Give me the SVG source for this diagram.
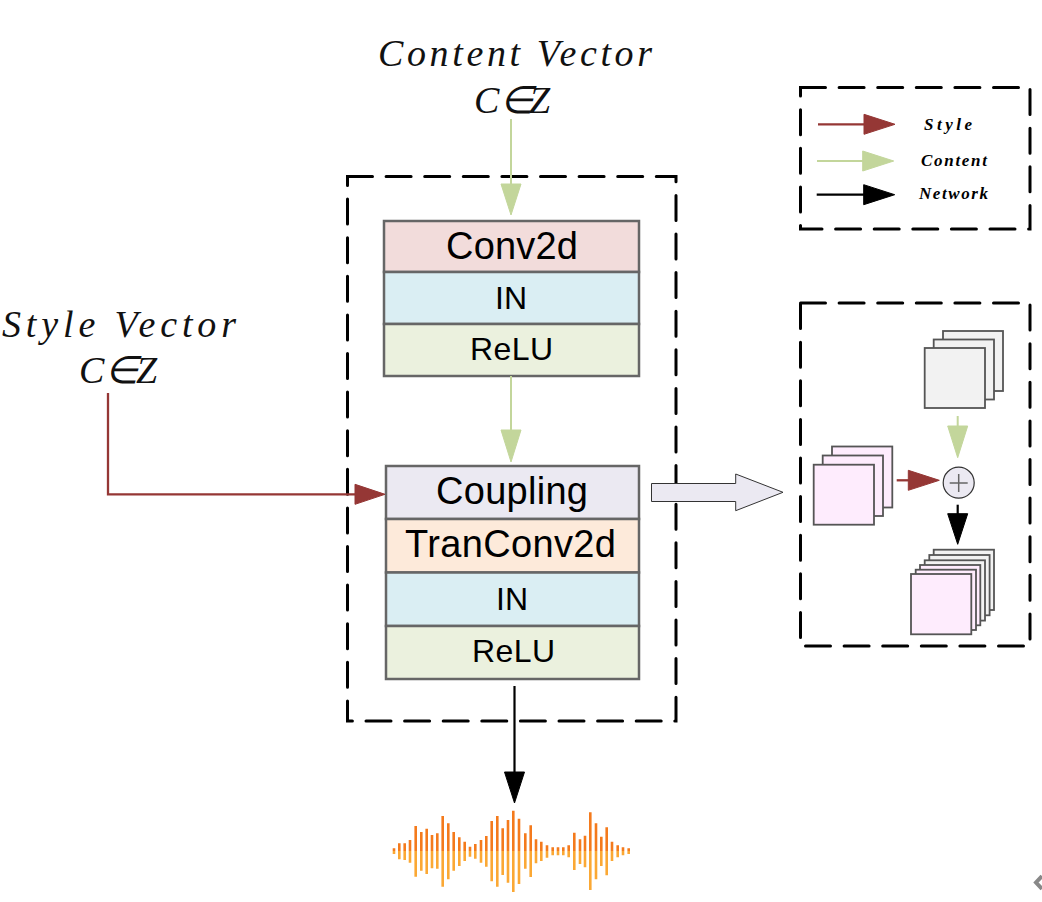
<svg xmlns="http://www.w3.org/2000/svg" width="1042" height="902" viewBox="0 0 1042 902">
<style>
.dash{fill:none;stroke:#000;stroke-width:3;stroke-dasharray:25 13.6;stroke-linecap:round}
.b{stroke:#666;stroke-width:2.5}
.s{stroke:#555;stroke-width:1.8}
.t{font-family:"Liberation Sans",Arial,sans-serif;text-anchor:start;fill:#000}
.big{font-size:38px}.mid{font-size:32px}
.v{font-family:"Liberation Serif","Times New Roman",serif;font-style:italic;font-size:38px;fill:#111}
.l{font-family:"Liberation Serif","Times New Roman",serif;font-style:italic;font-weight:bold;font-size:17px;fill:#000}
.r{fill:#953735;stroke:#953735}.g{fill:#c3d69b;stroke:#c3d69b}.n{fill:#000;stroke:#000}
.red{stroke:#953735;fill:none;stroke-width:2.3}.grn{stroke:#c3d69b;fill:none;stroke-width:2}.blk{stroke:#000;fill:none;stroke-width:2.2}
.pink{fill:#feecfd}.gray{fill:#f2f2f2}
</style>
<g id="frames">
<rect class="dash" x="347.5" y="176.5" width="328.5" height="544.5"/>
<rect class="dash" x="800.5" y="87.5" width="229.5" height="141.5"/>
<rect class="dash" x="800.5" y="303" width="229.5" height="343"/>
</g>
<g id="content-label"><text class="v" x="378" y="66" textLength="274" lengthAdjust="spacing">Content Vector</text><text class="v" x="474 500 529" y="113">C∈Z</text></g>
<g id="style-label"><text class="v" x="2" y="337" textLength="234" lengthAdjust="spacing">Style Vector</text><text class="v" x="79 105 136" y="383">C∈Z</text></g>
<g id="conv-block">
<rect class="b" x="384" y="221" width="255" height="51" fill="#f2dcdb"/>
<rect class="b" x="384" y="272" width="255" height="52" fill="#daeef3"/>
<rect class="b" x="384" y="324" width="255" height="52" fill="#ebf1de"/>
<text class="t big" x="446" y="258.500" textLength="132" lengthAdjust="spacing">Conv2d</text>
<text class="t mid" x="495" y="309">IN</text>
<text class="t mid" x="470" y="360" textLength="83" lengthAdjust="spacing">ReLU</text>
</g>
<g id="coupling-block">
<rect class="b" x="386" y="466" width="253" height="53" fill="#ebe9f2"/>
<rect class="b" x="386" y="519" width="253" height="53.5" fill="#fdeada"/>
<rect class="b" x="386" y="572.500" width="253" height="53.500" fill="#daeef3"/>
<rect class="b" x="386" y="626" width="253" height="53" fill="#ebf1de"/>
<text class="t big" x="436" y="503.500" textLength="152" lengthAdjust="spacing">Coupling</text>
<text class="t big" x="405" y="556.700" textLength="211" lengthAdjust="spacing">TranConv2d</text>
<text class="t mid" x="496" y="610">IN</text>
<text class="t mid" x="472" y="661.500" textLength="83" lengthAdjust="spacing">ReLU</text>
</g>
<g id="connectors">
<path class="grn" d="M511 119V186"/><path class="g" d="M501 184H521L511 215Z"/>
<path class="grn" d="M511 376V432"/><path class="g" d="M501 430H521L511 462Z"/>
<path class="red" d="M108 393V494.300H357"/><path class="r" d="M355 484.300V504.300L385 494.300Z"/>
<path class="blk" d="M514.500 686V774"/><path class="n" d="M504.500 772H524.500L514.500 803Z"/>
<path d="M651.500 483.500H735.700V474L783 492.300L735.700 510.700V501.500H651.500Z" fill="#ebe9f2" stroke="#333" stroke-width="1"/>
<path class="red" d="M818 124.300H866"/><path class="r" d="M864 114.300V134.300L895 124.300Z"/>
<path class="grn" d="M817 161H865"/><path class="g" d="M862.700 151V171L893.700 161Z"/>
<path class="blk" d="M816.700 194.700H866"/><path class="n" d="M863.700 184.700V204.700L894.700 194.700Z"/>
<path class="grn" d="M957.700 416V428"/><path class="g" d="M947.700 426H967.700L957.700 457.700Z"/>
<path class="red" d="M896.700 480.300H910"/><path class="r" d="M908.300 470.300V490.300L939.300 480.300Z"/>
<path class="blk" d="M957.700 504.700V516" stroke-width="2.500"/><path class="n" d="M947.700 513.700H967.700L957.700 544.300Z"/>
</g>
<g id="legend">
<text class="l" x="924" y="130" textLength="48" lengthAdjust="spacing">Style</text>
<text class="l" x="921" y="166" textLength="66" lengthAdjust="spacing">Content</text>
<text class="l" x="919" y="199" textLength="69" lengthAdjust="spacing">Network</text>
</g>
<g id="feature-gray">
<rect class="gray s" x="943" y="331" width="60" height="60"/>
<rect class="gray s" x="933.700" y="339.500" width="60.300" height="60"/>
<rect class="gray s" x="924.700" y="348" width="60.300" height="60"/>
</g>
<g id="feature-pink">
<rect class="pink s" x="832" y="446.500" width="60.300" height="61"/>
<rect class="pink s" x="822.700" y="455.500" width="60.300" height="60.500"/>
<rect class="pink s" x="813.700" y="464.700" width="60.300" height="60"/>
</g>
<g id="add">
<circle cx="958.700" cy="482.700" r="15.500" fill="#ebe9f2" stroke="#333" stroke-width="1.200"/>
<path d="M949.700 483H967.700M958.700 474V492" stroke="#666" stroke-width="1.500" fill="none"/>
</g>
<g id="feature-merged">
<rect class="gray s" x="933.700" y="549.700" width="60.300" height="60.300"/>
<rect class="gray s" x="929.300" y="555" width="60.300" height="60.300"/>
<rect class="gray s" x="924.700" y="560.300" width="60.300" height="60.300"/>
<rect class="pink s" x="920" y="565" width="60.300" height="60.300"/>
<rect class="pink s" x="915.700" y="569.700" width="60.300" height="60.300"/>
<rect class="pink s" x="911" y="574" width="60.300" height="60.300"/>
</g>
<g id="waveform" fill="none" stroke-width="2.600">
<path stroke="#f47a1c" d="M394 851V848.300M399.300 851V843.300M404.700 851V843.300M410 851V840M415.700 851V826M421.300 851V832M426.700 851V828.700M432 851V835M437.300 851V833.300M442.700 851V816M448.300 851V823.300M453.700 851V832M459.300 851V837.300M464.700 851V841.700M470 851V846.700M475.300 851V844M481 851V840M486.300 851V836M491.700 851V821M497.300 851V816M502.700 851V828.300M508 851V820M513.300 851V810.700M519 851V818.700M525.300 851V833.300M530.700 851V825.300M536 851V839.300M541.300 851V841.700M547 851V845.300M552.700 851V847.300M558 851V847.300M563.300 851V847.300M568.700 851V845.300M574.300 851V832.700M580 851V839.300M585 851V835.700M590.300 851V812.300M596 851V823.300M601.300 851V836.700M606.700 851V827.300M612 851V841.700M617.700 851V845.300M623 851V847.300M628.700 851V848.300"/>
<path stroke="#fba834" d="M394 851V854M399.300 851V859.300M404.700 851V860M410 851V862.700M415.700 851V876.700M421.300 851V870.700M426.700 851V874M432 851V868.300M437.300 851V868.700M442.700 851V886.700M448.300 851V879.300M453.700 851V870.700M459.300 851V866M464.700 851V861M470 851V856.700M475.300 851V858.700M481 851V862.700M486.300 851V866.700M491.700 851V881.300M497.300 851V886.700M502.700 851V875M508 851V882.700M513.300 851V892M519 851V884M525.300 851V868.700M530.700 851V877M536 851V863.300M541.300 851V861M547 851V857.700M552.700 851V855.300M558 851V855.300M563.300 851V855.300M568.700 851V857.300M574.300 851V870M580 851V864M585 851V867.300M590.300 851V890M596 851V879.300M601.300 851V866M606.700 851V875.300M612 851V861M617.700 851V857.300M623 851V855.300M628.700 851V854"/>
</g>
<path id="corner-chevron" d="M1042 876L1036 882.500L1042 889" fill="none" stroke="#888" stroke-width="4"/>
</svg>
